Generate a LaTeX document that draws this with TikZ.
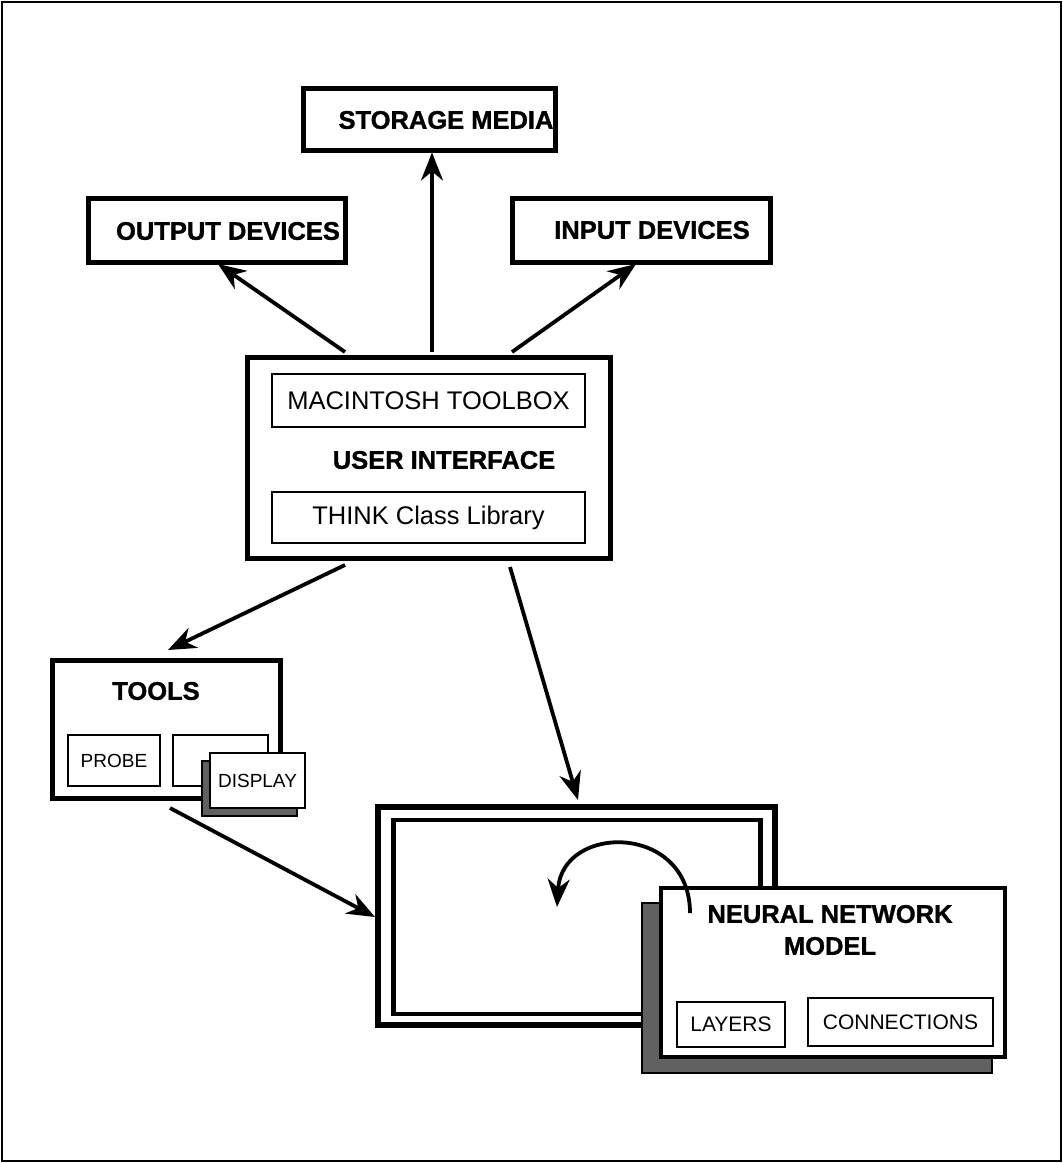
\documentclass[tikz,border=0pt]{standalone}
\usepackage{fontspec}
\setmainfont{Liberation Sans}[BoldFeatures={FakeBold=1.2}]
\usetikzlibrary{arrows.meta}
\begin{document}
\begin{tikzpicture}[x=1pt,y=-1pt,
  box/.style={draw,line width=5pt,fill=white,inner sep=0pt},
  subbox/.style={draw,line width=2.5pt,fill=white,inner sep=0pt},
  shadow/.style={draw,line width=1.5pt,fill=black!62},
  lbl/.style={inner sep=0pt,font=\fontsize{25.5}{32}\selectfont\bfseries},
  txt/.style={inner sep=0pt,font=\fontsize{25.5}{30}\selectfont},
  small/.style={inner sep=0pt,font=\fontsize{19}{22}\selectfont},
  tip/.style={-{Stealth[length=28pt,width=22pt,inset=9pt]}},
  arr/.style={line width=3.8pt,tip},
]
% page frame
\useasboundingbox (0,0) rectangle (1063,1163);
\draw[line width=2pt] (2,2) rectangle (1061,1161);

% peripheral boxes
\node[box,minimum width=252,minimum height=62] (storage) at (429,119) {};
\node[lbl] (storageT) at (446,120) {STORAGE MEDIA};
\node[box,minimum width=257,minimum height=64] (output) at (216.5,230) {};
\node[lbl] (outputT) at (228,231) {OUTPUT DEVICES};
\node[box,minimum width=258,minimum height=64] (input) at (641,230) {};
\node[lbl] (inputT) at (652,230) {INPUT DEVICES};

% user interface
\node[box,minimum width=363,minimum height=201] (ui) at (428.5,457.5) {};
\node[subbox,minimum width=313,minimum height=53] (mac) at (428.5,400.5) {};
\node[txt] at (mac) {MACINTOSH TOOLBOX};
\node[lbl] (uiT) at (444,460) {USER INTERFACE};
\node[subbox,minimum width=313,minimum height=51] (think) at (428.5,517.5) {};
\node[txt] at (think) {THINK Class Library};

% tools
\node[box,minimum width=228,minimum height=138] (tools) at (166,729) {};
\node[lbl] (toolsT) at (156,691) {TOOLS};
\node[subbox,minimum width=92,minimum height=51] (probe) at (114,760.5) {};
\node[small] at (probe) {PROBE};
\node[subbox,minimum width=95,minimum height=51] (slot) at (220.5,760.5) {};
\node[shadow,minimum width=95,minimum height=55] (dispS) at (249.5,788.5) {};
\node[subbox,minimum width=95,minimum height=55] (display) at (257.5,780.5) {};
\node[small] at (display) {DISPLAY};

% workspace window
\node[draw,line width=6pt,fill=white,minimum width=397,minimum height=218,inner sep=0pt] (work) at (576.5,916) {};
\node[draw,line width=4.5pt,minimum width=367,minimum height=194,inner sep=0pt] (workIn) at (577,917) {};

% neural network model
\node[shadow,minimum width=350,minimum height=170] (nnS) at (817,988) {};
\node[draw,line width=4pt,fill=white,minimum width=344,minimum height=169,inner sep=0pt] (nn) at (833,972.5) {};
\node[lbl,align=center] (nnT) at (830,930) {NEURAL NETWORK\\MODEL};
\node[subbox,minimum width=108,minimum height=45] (layers) at (731,1024.5) {};
\node[txt,font=\fontsize{21}{24}\selectfont] at (layers) {LAYERS};
\node[subbox,minimum width=185,minimum height=48] (conn) at (900.5,1022) {};
\node[txt,font=\fontsize{21}{24}\selectfont] at (conn) {CONNECTIONS};

% connectors
\coordinate (uiA) at (345,352);
\coordinate (uiB) at (432,352);
\coordinate (uiC) at (512,352);
\coordinate (uiD) at (345,565);
\coordinate (uiE) at (510,567);
\coordinate (toolsOut) at (170,808);
\draw[arr] (uiA) -- (218,264);
\draw[arr] (uiB) -- (storage.south -| uiB);
\draw[arr] (uiC) -- (636,264);
\draw[arr] (uiD) -- (168,650);
\draw[arr] (uiE) -- (578,800);
\draw[arr] (toolsOut) -- (work.west |- 0,917);
% feedback loop over the model
\coordinate (loopS) at (690,913);
\coordinate (loopE) at (557,907);
\draw[line width=3.8pt,tip] (loopS) .. controls (690,823) and (562,823) .. (loopE);
\end{tikzpicture}
\end{document}
